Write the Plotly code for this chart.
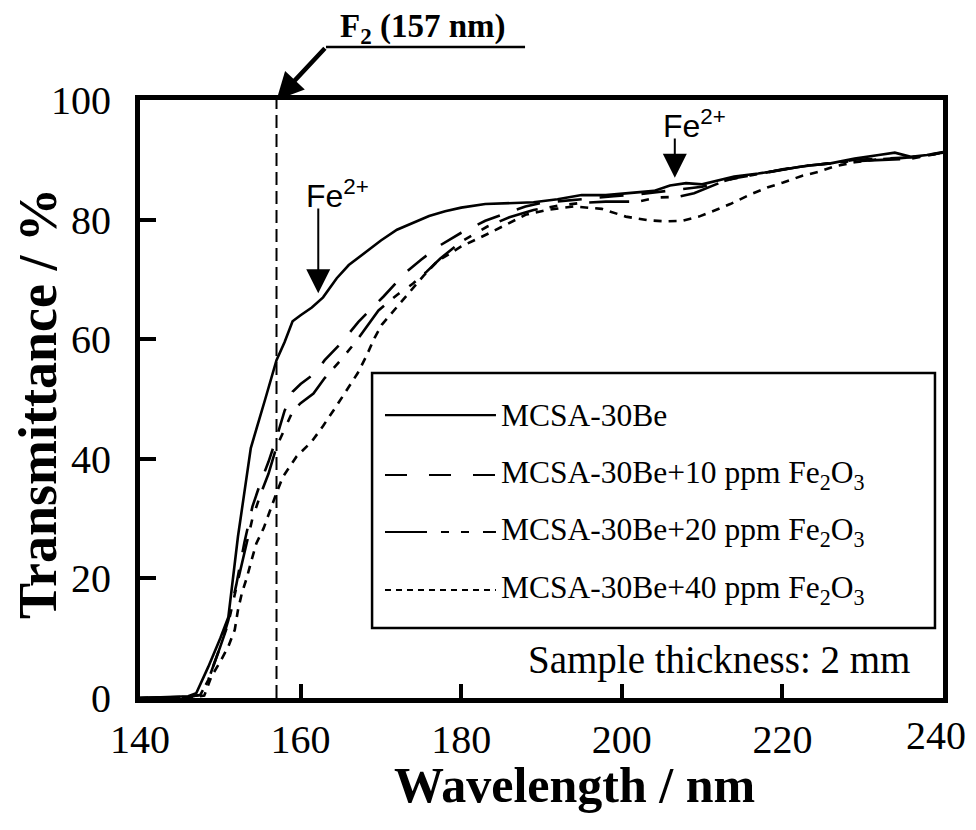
import plotly.graph_objects as go

# ---- data ----
wl_base = [140, 145, 146, 147, 148.5, 150, 151, 152.2, 153.8, 155.6, 157, 158, 159, 160, 161.4, 162.8,
           164.5, 166, 168, 170, 172, 174, 176, 178, 180, 183, 186, 189, 192, 195, 198, 201, 204, 206,
           208, 210, 212, 214, 217, 220, 223, 226, 229, 232, 234, 236, 238, 240]
t_base = [0, 0.2, 0.3, 0.8, 5.2, 10, 13.5, 27, 41.8, 50, 56.5, 59.5, 63, 64, 65.3, 67,
          70.2, 72.4, 74.4, 76.5, 78.3, 79.4, 80.6, 81.4, 82, 82.6, 82.8, 82.9, 83.4, 84.1, 84.1, 84.4, 84.8, 85.7,
          86.1, 85.9, 86.5, 87.2, 87.7, 88.4, 89, 89.4, 90.2, 90.8, 91.2, 90.5, 90.8, 91.3]

wl_10 = [140, 146, 147.5, 148.5, 150, 151, 152, 153, 154, 155, 156, 157, 158, 159, 160, 161.8, 163, 165,
         167.2, 170.3, 173.2, 175, 177.5, 180, 183, 186, 188, 190, 193, 196, 199, 202, 204, 206, 208, 210,
         212, 214, 217, 220, 223, 226, 229, 232, 234, 236, 238, 240]
t_10 = [0, 0.2, 0.5, 3, 8.6, 13, 19, 26, 32, 36, 39.5, 43.5, 48, 51.2, 52.5, 54.3, 56.5, 59.3,
        62.9, 67.1, 71.3, 73.3, 75.8, 77.8, 79.8, 81.3, 82.2, 82.8, 83.2, 83.6, 83.9, 84.2, 84.5, 84.8, 85.2, 85.5,
        86.2, 86.9, 87.6, 88.4, 89, 89.4, 90, 90.2, 90.3, 90.4, 90.8, 91.2]

wl_20 = [140, 146, 147.5, 148.5, 150, 151, 152, 153, 154, 155, 156, 157, 158, 159, 160, 161.6, 163, 165,
         167, 169.7, 172, 174, 175.7, 177.4, 180, 183.2, 186, 189, 192, 195, 198, 202, 204.4, 207, 209, 211,
         213, 216, 219, 222, 225, 228, 231, 234, 236, 238, 240]
t_20 = [0, 0.2, 0.5, 3, 8.6, 12.5, 18.5, 24.5, 30, 34, 37.5, 42, 45, 47.9, 49.3, 50.9, 53.5, 56.5,
        59.8, 64.8, 67.4, 69.3, 71.3, 73.5, 76.3, 78.8, 80.4, 81.6, 82.3, 82.8, 83, 83, 83.7, 83.8, 84.4, 85.5,
        86.6, 87.4, 88.1, 88.8, 89.3, 89.7, 89.9, 90.1, 90.2, 90.7, 91.2]

wl_40 = [140, 146, 148, 148.9, 150, 151, 151.8, 152.2, 152.7, 153.3, 153.9, 154.5, 155.4, 156.2, 157, 157.8,
         159.5, 161.4, 162.8, 164.4, 165.8, 167.1, 168.2, 169.2, 170.1, 172, 173.6, 175.3, 177, 180, 183.6,
         186.2, 188, 190.6, 194, 197.5, 200.5, 203.2, 205.5, 207.5, 209.6, 211.7, 213.5, 216, 218.2, 220.1,
         222.4, 224.5, 226.5, 229, 232, 235, 238, 240]
t_40 = [0, 0.1, 0.4, 3.6, 6.1, 8.6, 11.4, 14.7, 17.6, 20.1, 23.1, 25.9, 28.4, 31.4, 34.3, 37,
        40.4, 42.9, 45.5, 48.7, 51.5, 54.3, 57.2, 60.2, 62.4, 65.4, 68, 70.6, 73, 75.5, 77.8,
        79.6, 80.8, 81.6, 82.2, 81.8, 80.5, 79.9, 79.7, 79.8, 80.5, 81.6, 82.6, 84.2, 85.4, 86.2,
        87.3, 88, 88.9, 89.6, 90.1, 90.3, 90.7, 91.2]

series_names = ["MCSA-30Be",
                "MCSA-30Be+10 ppm Fe<sub>2</sub>O<sub>3</sub>",
                "MCSA-30Be+20 ppm Fe<sub>2</sub>O<sub>3</sub>",
                "MCSA-30Be+40 ppm Fe<sub>2</sub>O<sub>3</sub>"]
series_x = [wl_base, wl_10, wl_20, wl_40]
series_y = [t_base, t_10, t_20, t_40]
series_dash = ["solid", "24px,18px", "40px,12px,8px,12px,8px,12px", "8px,7px"]
legend_dash = ["solid", "22px,22px", "42px,14px,8px,12px,8px,14px", "6px,5px"]

x_ticks = [140, 160, 180, 200, 220, 240]
x_tick_labels = ["140", "160", "180", "200", "220", "240"]
y_ticks = [0, 20, 40, 60, 80, 100]
y_tick_labels = ["0", "20", "40", "60", "80", "100"]
f2_wavelength = 157

SERIF = "Liberation Serif, Times New Roman, serif"
SANS = "Liberation Sans, Arial, sans-serif"

fig = go.Figure()
for name, xs, ys, d in zip(series_names, series_x, series_y, series_dash):
    fig.add_trace(go.Scatter(x=xs, y=ys, mode="lines", name=name, showlegend=False,
                             line=dict(color="black", width=2.6, dash=d)))

# F2 laser line
fig.add_shape(type="line", xref="x", yref="y", x0=f2_wavelength, x1=f2_wavelength, y0=0, y1=100,
              line=dict(color="black", width=2, dash="13px,6px"))

# ---- manual legend ----
box = dict(x0=0.289, x1=0.990, y0=0.117, y1=0.5435)
fig.add_shape(type="rect", xref="paper", yref="paper", line=dict(color="black", width=2.5),
              fillcolor="white", layer="above", **box)
row_y = [0.4732, 0.3729, 0.2776, 0.1806]
for name, d, yy in zip(series_names, legend_dash, row_y):
    fig.add_shape(type="line", xref="paper", yref="paper", x0=0.3051, x1=0.4433, y0=yy, y1=yy,
                  line=dict(color="black", width=2.2, dash=d), layer="above")
    fig.add_annotation(xref="paper", yref="paper", x=0.4470, y=yy, text=name, showarrow=False,
                       xanchor="left", yanchor="middle", font=dict(family=SERIF, size=31.5, color="black"))

fig.add_annotation(xref="paper", yref="paper", x=0.962, y=0.0635, text="Sample thickness: 2 mm",
                   showarrow=False, xanchor="right", yanchor="middle",
                   font=dict(family=SERIF, size=39, color="black"))

# ---- Fe2+ markers ----
fe_arrows = [(162.2, 67.7, 82.1, 164.6, 84.3), (206.6, 87.0, 93.8, 209.0, 96.0)]
for xa, ytip, ytail, xt, yt in fe_arrows:
    fig.add_annotation(x=xa, y=ytip, ax=xa, ay=ytail, xref="x", yref="y", axref="x", ayref="y",
                       text="", showarrow=True, arrowhead=2, arrowsize=2.4, arrowwidth=2, arrowcolor="black")
    fig.add_annotation(x=xt, y=yt, xref="x", yref="y", text="Fe<sup>2+</sup>", showarrow=False,
                       xanchor="center", yanchor="middle",
                       font=dict(family=SANS, size=32, color="black"))

# ---- F2 (157 nm) label ----
fig.add_annotation(x=f2_wavelength, y=100, ax=163.2, ay=108.9, xref="x", yref="y", axref="x", ayref="y",
                   text="", showarrow=True, arrowhead=2, arrowsize=1.2, arrowwidth=4.5, arrowcolor="black")
fig.add_shape(type="line", xref="paper", yref="paper", x0=0.2316, x1=0.4795, y0=1.0886, y1=1.0886,
              line=dict(color="black", width=2.5))
fig.add_annotation(xref="paper", yref="paper", x=0.352, y=1.119, text="<b>F<sub>2</sub> (157 nm)</b>",
                   showarrow=False, xanchor="center", yanchor="middle",
                   font=dict(family=SERIF, size=33, color="black"))

# ---- axis titles ----
fig.add_annotation(xref="paper", yref="paper", x=0.5417, y=-0.145, text="<b>Wavelength / nm</b>",
                   showarrow=False, xanchor="center", yanchor="middle",
                   font=dict(family=SERIF, size=50, color="black"))
fig.add_annotation(xref="paper", yref="paper", x=-0.127, y=0.4916, text="<b>Transmittance / %</b>",
                   showarrow=False, xanchor="center", yanchor="middle", textangle=-90,
                   font=dict(family=SERIF, size=54, color="black"))

# the last x tick label sits at the very right edge of the page (as in the reference), so it is
# placed right-aligned against the figure edge instead of centred on its tick (which would be hidden)
fig.add_annotation(xref="paper", yref="paper", x=1.0311, y=-0.062, text=x_tick_labels[-1],
                   showarrow=False, xanchor="right", yanchor="middle",
                   font=dict(family=SERIF, size=40, color="black"))

# page body keeps its default 8px margin: the figure is sized so the page fits the window exactly
fig.update_layout(
    width=960, height=814,
    margin=dict(l=132, r=25, t=92, b=124),
    paper_bgcolor="white", plot_bgcolor="white",
    font=dict(family=SERIF, color="black"),
    xaxis=dict(range=[140, 240], tickvals=x_ticks, ticktext=x_tick_labels[:-1] + [""],
               ticks="inside", ticklen=14, tickwidth=4, tickcolor="black",
               showline=True, linewidth=5, linecolor="black", mirror=True,
               showgrid=False, zeroline=False, tickfont=dict(family=SERIF, size=40),
               ticklabelstandoff=2),
    yaxis=dict(range=[0, 100], tickvals=y_ticks, ticktext=y_tick_labels,
               ticks="inside", ticklen=16, tickwidth=4, tickcolor="black",
               showline=True, linewidth=5, linecolor="black", mirror=True,
               showgrid=False, zeroline=False, tickfont=dict(family=SERIF, size=40),
               ticklabelstandoff=16),
)

fig.write_html("out.html", config={"displayModeBar": False})
